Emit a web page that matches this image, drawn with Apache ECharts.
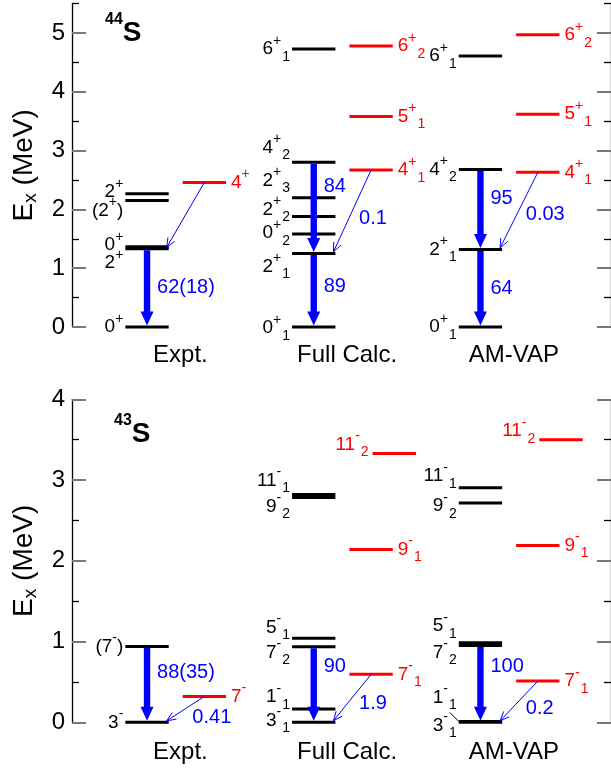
<!DOCTYPE html>
<html>
<head>
<meta charset="utf-8">
<script src="https://cdn.jsdelivr.net/npm/echarts@6/dist/echarts.min.js"></script>
<style>
  html, body { margin: 0; padding: 0; background: #fff; }
  #main { width: 611px; height: 771px; }
</style>
</head>
<body>
<div id="main"></div>
<script>
// ---------------- data (energies in MeV) ----------------
const columns = ['Expt.', 'Full Calc.', 'AM-VAP'];

// 44S : black = levels of the band, red = other levels
const s44ExptE = [0, 1.329, 1.365, 2.150, 2.268];
const s44ExptJ = ['0^+', '2^+', '0^+', '(2^+)', '2^+'];
const s44ExptRedE = [2.459];
const s44ExptRedJ = ['4^+'];
const s44FullE = [0, 1.25, 1.58, 1.88, 2.20, 2.80, 4.73];
const s44FullJ = ['0^+_1', '2^+_1', '0^+_2', '2^+_2', '2^+_3', '4^+_2', '6^+_1'];
const s44FullRedE = [2.67, 3.58, 4.78];
const s44FullRedJ = ['4^+_1', '5^+_1', '6^+_2'];
const s44VapE = [0, 1.32, 2.68, 4.61];
const s44VapJ = ['0^+_1', '2^+_1', '4^+_2', '6^+_1'];
const s44VapRedE = [2.63, 3.62, 4.97];
const s44VapRedJ = ['4^+_1', '5^+_1', '6^+_2'];

// 44S transitions, B(E2)
const s44StrongCol = [0, 1, 1, 2, 2];
const s44StrongFrom = [1.329, 2.80, 1.25, 2.68, 1.32];
const s44StrongTo = [0, 1.25, 0, 1.32, 0];
const s44StrongB = ['62(18)', '84', '89', '95', '64'];
const s44WeakCol = [0, 1, 2];
const s44WeakFrom = [2.459, 2.67, 2.63];
const s44WeakTo = [1.329, 1.25, 1.32];
const s44WeakB = ['', '0.1', '0.03'];

// 43S
const s43ExptE = [0, 0.940];
const s43ExptJ = ['3^-', '(7^-)'];
const s43ExptRedE = [0.320];
const s43ExptRedJ = ['7^-'];
const s43FullE = [0, 0.165, 0.937, 1.04, 2.785, 2.82];
const s43FullJ = ['3^-_1', '1^-_1', '7^-_2', '5^-_1', '9^-_2', '11^-_1'];
const s43FullRedE = [0.594, 2.14, 3.33];
const s43FullRedJ = ['7^-_1', '9^-_1', '11^-_2'];
const s43VapE = [0, 0.01, 0.952, 0.986, 2.716, 2.905];
const s43VapJ = ['3^-_1', '1^-_1', '7^-_2', '5^-_1', '9^-_2', '11^-_1'];
const s43VapRedE = [0.51, 2.19, 3.50];
const s43VapRedJ = ['7^-_1', '9^-_1', '11^-_2'];

const s43StrongCol = [0, 1, 2];
const s43StrongFrom = [0.940, 0.937, 0.952];
const s43StrongTo = [0, 0, 0];
const s43StrongB = ['88(35)', '90', '100'];
const s43WeakCol = [0, 1, 2];
const s43WeakFrom = [0.320, 0.594, 0.51];
const s43WeakTo = [0, 0, 0];
const s43WeakB = ['0.41', '1.9', '0.2'];

const s44Ticks = [0, 1, 2, 3, 4, 5];
const s43Ticks = [0, 1, 2, 3, 4];

// ---------------- layout ----------------
const FONT = '"Liberation Sans", Arial, Helvetica, sans-serif';
const RED = '#ff0000';
const BLUE = '#0000ff';
const HALF = 0.13;      // half width of a level, in column units
const RED_DX = 0.344;   // red levels sit right of the black ones
// label offsets (px) of crowded levels
const s44ExptDy = [0, 14, -2, 10, -2];
const s44FullDy = [1, 13, -1, -7, -17, -15, 0];
const s44VapDy = [0, 0, 0, 0];
const s43ExptDy = [0, 0];
const s43FullDy = [-2, -12, 6, -11, 9, -14];
const s43VapDy = [3, -24, 7, -17, 3, -12];
// red 11-_2 levels are pushed right with the label on their left
const s43FullRedDx = [0.344, 0.344, 0.483];
const s43VapRedDx = [0.344, 0.344, 0.483];
const s43RedDy = [0, 0, -9];
// where the B(E2) numbers sit along the arrows (fraction from top)
const s44StrongFrac = [0.5, 0.26, 0.45, 0.36, 0.5];
const s44WeakFrac = [0, 0.58, 0.55];
const s43StrongFrac = [0.35, 0.26, 0.27];
const s43WeakFrac = [0.80, 0.60, 0.66];

const jRich = {
  b: { fontSize: 19, fontFamily: FONT },
  p: { fontSize: 14, fontFamily: FONT, padding: [0, 0, 16, 0] },
  s: { fontSize: 14, fontFamily: FONT, padding: [16, 0, 0, 1] }
};

function richJ(str) {
  let out = '', base = '';
  for (let i = 0; i < str.length; i++) {
    const c = str[i];
    if (c === '^' || c === '_') {
      if (base) { out += '{b|' + base + '}'; base = ''; }
      let k = i + 1, t = '';
      while (k < str.length && str[k] !== '^' && str[k] !== '_' && str[k] !== ')' && (c === '_' || t.length < 1)) { t += str[k]; k++; }
      out += (c === '^' ? '{p|' : '{s|') + t + '}';
      i = k - 1;
    } else {
      base += c;
    }
  }
  if (base) out += '{b|' + base + '}';
  return out;
}

function levels(col, es, js, dys, red, dxs, reddy) {
  return es.map((e, i) => {
    const dx = red ? (dxs ? dxs[i] : RED_DX) : 0;
    const left = !red || dx > RED_DX;
    return { x: col + dx, e: e, j: js[i], red: red, left: left,
      dy: red ? (reddy ? reddy[i] : 0) : dys[i], leader: false };
  });
}

const s44Levels = [].concat(
  levels(0, s44ExptE, s44ExptJ, s44ExptDy, false),
  levels(0, s44ExptRedE, s44ExptRedJ, null, true),
  levels(1, s44FullE, s44FullJ, s44FullDy, false),
  levels(1, s44FullRedE, s44FullRedJ, null, true),
  levels(2, s44VapE, s44VapJ, s44VapDy, false),
  levels(2, s44VapRedE, s44VapRedJ, null, true)
);
const s43VapLevels = levels(2, s43VapE, s43VapJ, s43VapDy, false);
s43VapLevels[1].leader = true;
const s43Levels = [].concat(
  levels(0, s43ExptE, s43ExptJ, s43ExptDy, false),
  levels(0, s43ExptRedE, s43ExptRedJ, null, true),
  levels(1, s43FullE, s43FullJ, s43FullDy, false),
  levels(1, s43FullRedE, s43FullRedJ, null, true, s43FullRedDx, s43RedDy),
  s43VapLevels,
  levels(2, s43VapRedE, s43VapRedJ, null, true, s43VapRedDx, s43RedDy)
);

function levelSeries(list, gi) {
  return {
    type: 'custom', xAxisIndex: gi, yAxisIndex: gi * 4, silent: true,
    data: list.map(d => [d.x, d.e]),
    renderItem: function (params, api) {
      const d = list[params.dataIndex];
      const a = api.coord([d.x - HALF, d.e]);
      const b = api.coord([d.x + HALF, d.e]);
      const color = d.red ? RED : '#000';
      const ch = [{
        type: 'line', shape: { x1: a[0], y1: a[1], x2: b[0], y2: b[1] },
        style: { stroke: color, lineWidth: 3 }
      }];
      ch.push({
        type: 'text', x: d.left ? a[0] - (d.red ? 4 : 2) : b[0] + 5, y: a[1] + d.dy,
        style: { text: richJ(d.j), rich: jRich, fill: color, fontFamily: FONT, fontSize: 19,
          align: d.left ? 'right' : 'left', verticalAlign: 'middle' }
      });
      if (d.leader) {
        ch.push({ type: 'line', shape: { x1: a[0] - 9, y1: a[1] - 9, x2: a[0], y2: a[1] },
          style: { stroke: '#000', lineWidth: 1 } });
      }
      return { type: 'group', children: ch };
    }
  };
}

function strongSeries(cols, from, to, lab, frac, gi) {
  return {
    type: 'custom', xAxisIndex: gi, yAxisIndex: gi * 4, silent: true, z: 3,
    data: cols.map((c, i) => [c, from[i], to[i]]),
    renderItem: function (params, api) {
      const i = params.dataIndex;
      const top = api.coord([cols[i], from[i]]);
      const tip = api.coord([cols[i], to[i]]);
      const x = top[0], y0 = top[1] + 1.5, yt = tip[1] - 1.5;
      const hl = 14, sw = 3.2, hw = 6.5;
      const lp = api.coord([cols[i], from[i] - frac[i] * (from[i] - to[i])]);
      return { type: 'group', children: [
        { type: 'polygon', shape: { points: [[x - sw, y0], [x + sw, y0], [x + sw, yt - hl], [x + hw, yt - hl],
            [x, yt], [x - hw, yt - hl], [x - sw, yt - hl]] }, style: { fill: BLUE } },
        { type: 'text', x: x + 10, y: lp[1],
          style: { text: lab[i], fill: BLUE, fontFamily: FONT, fontSize: 20, align: 'left', verticalAlign: 'middle' } }
      ] };
    }
  };
}

function weakSeries(cols, from, to, lab, frac, gi) {
  return {
    type: 'custom', xAxisIndex: gi, yAxisIndex: gi * 4, silent: true, z: 3,
    data: cols.map((c, i) => [c, from[i], to[i]]),
    renderItem: function (params, api) {
      const i = params.dataIndex;
      const s = api.coord([cols[i] + RED_DX, from[i]]);
      const e = api.coord([cols[i] + HALF, to[i]]);
      const ex = e[0] - 2, ey = e[1] - 1.5;
      const ang = Math.atan2(ey - s[1], ex - s[0]);
      const hl = 10, spread = 0.4;
      const lp = api.coord([cols[i], from[i] - frac[i] * (from[i] - to[i])]);
      return { type: 'group', children: [
        { type: 'line', shape: { x1: s[0], y1: s[1], x2: ex, y2: ey }, style: { stroke: BLUE, lineWidth: 1 } },
        { type: 'polyline', shape: { points: [
            [ex - hl * Math.cos(ang - spread), ey - hl * Math.sin(ang - spread)], [ex, ey],
            [ex - hl * Math.cos(ang + spread), ey - hl * Math.sin(ang + spread)]] },
          style: { stroke: BLUE, lineWidth: 1, fill: null } },
        { type: 'text', x: s[0] - 12, y: lp[1],
          style: { text: lab[i], fill: BLUE, fontFamily: FONT, fontSize: 20, align: 'left', verticalAlign: 'middle' } }
      ] };
    }
  };
}

function titleSeries(gi, gap) {
  return {
    type: 'custom', xAxisIndex: gi, yAxisIndex: gi * 4, silent: true,
    data: columns.map((c, i) => [i + 0.2, 0]),
    renderItem: function (params, api) {
      const p = api.coord([api.value(0), 0]);
      return { type: 'text', x: p[0], y: p[1] + gap,
        style: { text: columns[params.dataIndex], fill: '#000', fontFamily: FONT, fontSize: 24,
          align: 'center', verticalAlign: 'middle' } };
    }
  };
}

function yAxes(gi, max, ticks) {
  const halves = ticks.map(t => t + 0.5).filter(t => t <= max);
  const major = {
    type: 'value', gridIndex: gi, min: 0, max: max, interval: 1,
    splitLine: { show: false }, axisLine: { show: true, onZero: false, lineStyle: { color: '#000', width: 1.3 } },
    axisTick: { show: true, inside: true, length: 14, customValues: ticks, lineStyle: { color: '#777', width: 2 } }
  };
  const minor = {
    type: 'value', gridIndex: gi, min: 0, max: max, interval: 1,
    splitLine: { show: false }, axisLine: { show: false, onZero: false }, axisLabel: { show: false },
    axisTick: { show: true, inside: true, length: 7, customValues: halves, lineStyle: { color: '#000', width: 1.3 } }
  };
  return [
    Object.assign({}, major, {
      position: 'left',
      axisLabel: { show: true, customValues: ticks, fontSize: 24, color: '#000', fontFamily: FONT, margin: 7 },
      name: '{e|E}{x|x}{e| (MeV)}', nameLocation: 'middle', nameRotate: 90, nameGap: 30,
      nameTextStyle: { rich: {
        e: { fontSize: 28, fontFamily: FONT, color: '#000' },
        x: { fontSize: 19, fontFamily: FONT, color: '#000', padding: [14, 0, 0, 0] } } }
    }),
    Object.assign({}, minor, { position: 'left' }),
    Object.assign({}, major, { position: 'right', axisLabel: { show: false } }),
    Object.assign({}, minor, { position: 'right' })
  ];
}

const nucRich = {
  n: { fontSize: 16, fontWeight: 'bold', fontFamily: FONT, color: '#000', padding: [0, 0, 26, 0] },
  s: { fontSize: 28, fontWeight: 'bold', fontFamily: FONT, color: '#000' }
};

const chart = echarts.init(document.getElementById('main'), null, { renderer: 'canvas' });
chart.setOption({
  backgroundColor: '#fff',
  animation: false,
  grid: [
    { left: 72, top: 3.6, width: 539, height: 323.4 },
    { left: 72, top: 399.3, width: 539, height: 323 }
  ],
  xAxis: [
    { type: 'value', gridIndex: 0, min: -0.45, max: 2.783, show: false },
    { type: 'value', gridIndex: 1, min: -0.45, max: 2.783, show: false }
  ],
  yAxis: [].concat(yAxes(0, 5.5, s44Ticks), yAxes(1, 4, s43Ticks)),
  graphic: [
    { type: 'text', left: 105, top: 12, style: { text: '{n|44}{s|S}', rich: nucRich } },
    { type: 'text', left: 114, top: 413, style: { text: '{n|43}{s|S}', rich: nucRich } }
  ],
  series: [
    levelSeries(s44Levels, 0),
    strongSeries(s44StrongCol, s44StrongFrom, s44StrongTo, s44StrongB, s44StrongFrac, 0),
    weakSeries(s44WeakCol, s44WeakFrom, s44WeakTo, s44WeakB, s44WeakFrac, 0),
    titleSeries(0, 28),
    levelSeries(s43Levels, 1),
    strongSeries(s43StrongCol, s43StrongFrom, s43StrongTo, s43StrongB, s43StrongFrac, 1),
    weakSeries(s43WeakCol, s43WeakFrom, s43WeakTo, s43WeakB, s43WeakFrac, 1),
    titleSeries(1, 30)
  ]
});
</script>
</body>
</html>
